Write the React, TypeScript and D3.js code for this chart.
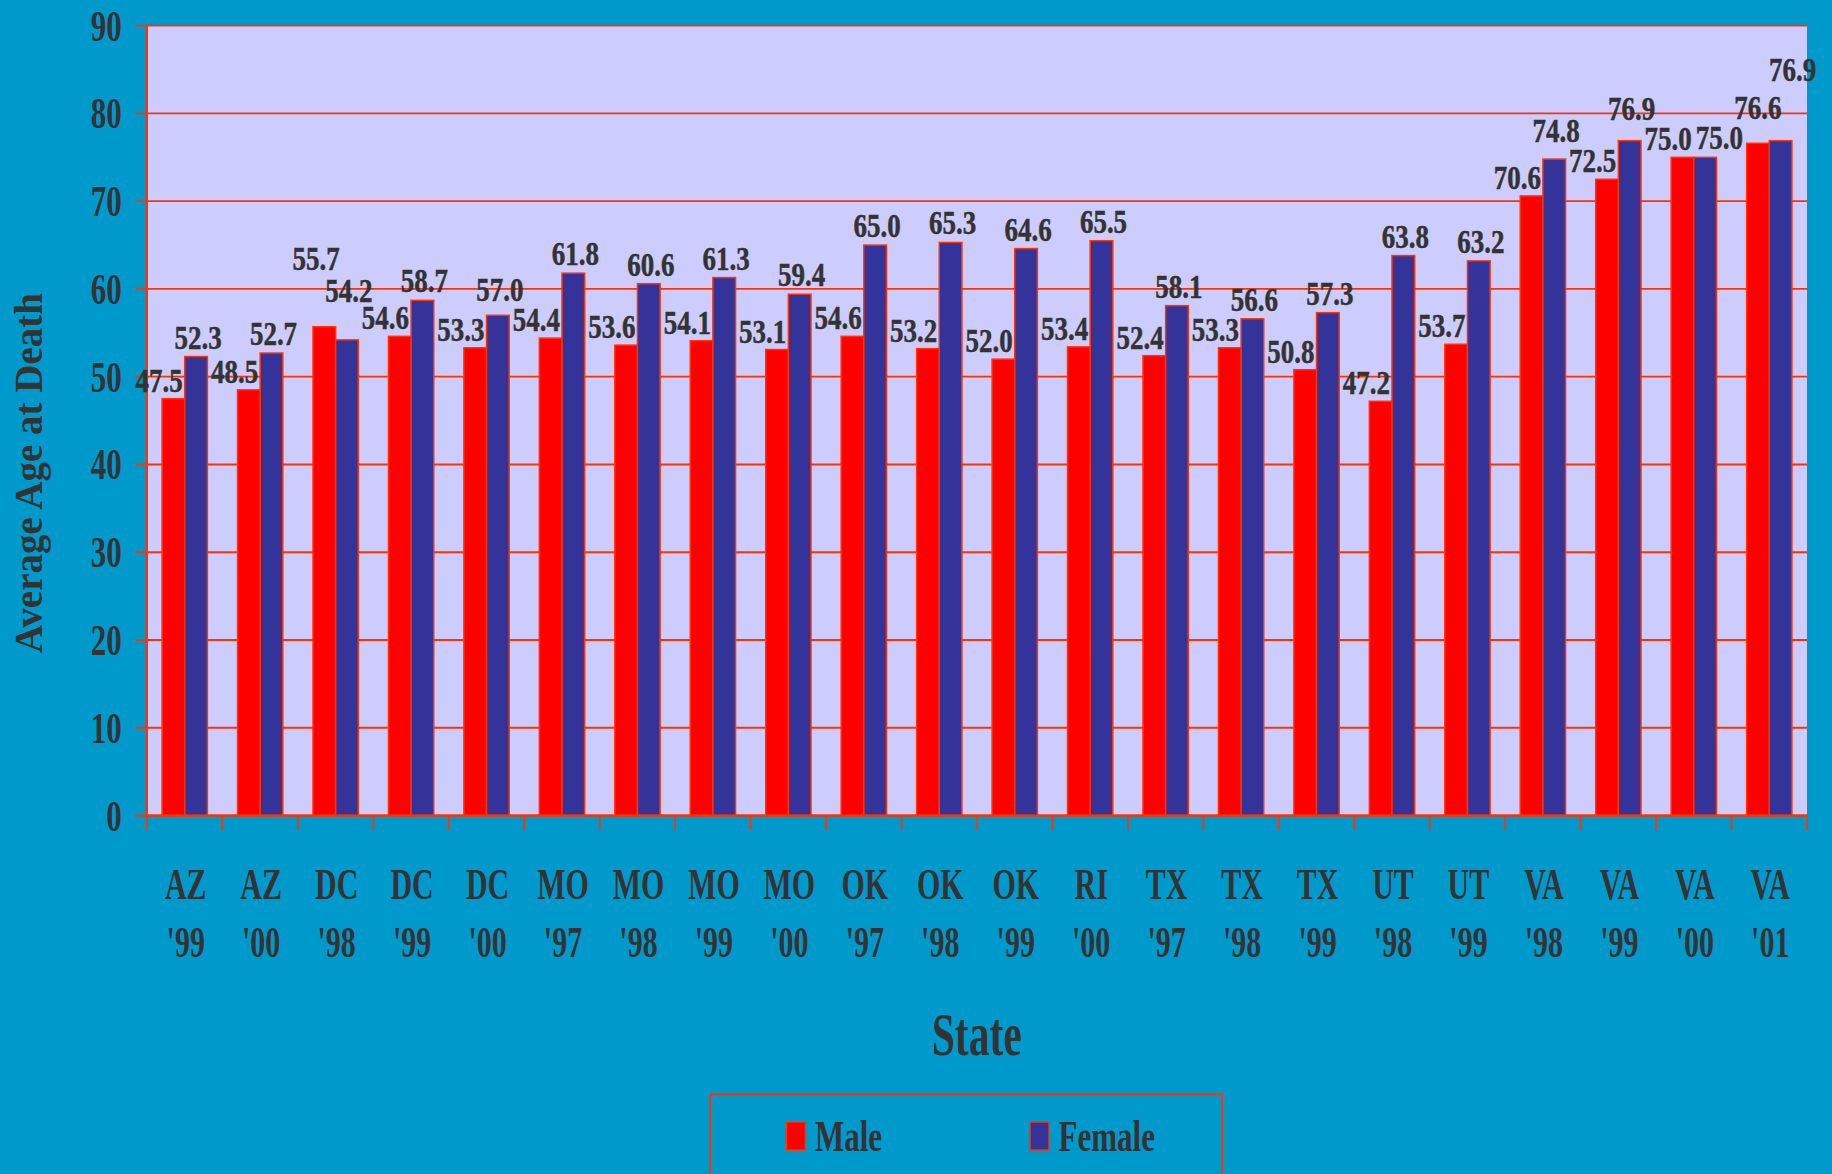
import React from "react";
import * as d3 from "d3";

const states = ["AZ", "AZ", "DC", "DC", "DC", "MO", "MO", "MO", "MO", "OK", "OK", "OK", "RI", "TX", "TX", "TX", "UT", "UT", "VA", "VA", "VA", "VA"];
const years = ["'99", "'00", "'98", "'99", "'00", "'97", "'98", "'99", "'00", "'97", "'98", "'99", "'00", "'97", "'98", "'99", "'98", "'99", "'98", "'99", "'00", "'01"];
const male = [47.5, 48.5, 55.7, 54.6, 53.3, 54.4, 53.6, 54.1, 53.1, 54.6, 53.2, 52.0, 53.4, 52.4, 53.3, 50.8, 47.2, 53.7, 70.6, 72.5, 75.0, 76.6];
const female = [52.3, 52.7, 54.2, 58.7, 57.0, 61.8, 60.6, 61.3, 59.4, 65.0, 65.3, 64.6, 65.5, 58.1, 56.6, 57.3, 63.8, 63.2, 74.8, 76.9, 75.0, 76.9];
const yTicks = [0, 10, 20, 30, 40, 50, 60, 70, 80, 90];
const seriesNames = ["Male", "Female"];

const W = 1832;
const H = 1174;
const BG = "#0099CC";
const PLOT_BG = "#CCCCFF";
const GRID = "#FF3300";
const RED = "#FF0000";
const BLUE = "#333399";
const TXT = "#333333";
const FONT = "'Liberation Serif', 'Times New Roman', serif";

const L = 147, R = 1807, T = 25.7, B = 815.5;

export default function App() {
  const idx = d3.range(states.length).map(String);
  const x = d3.scaleBand<string>().domain(idx).range([L, R]).paddingInner(0).paddingOuter(0);
  const y = d3.scaleLinear().domain([0, 90]).range([B, T]);
  const bandW = x.bandwidth();
  const bw = bandW * 0.3;
  const groupOff = (bandW - 2 * bw) / 2;

  const lfs = 27;
  const lsy = 1.22;
  const lh = 0.676 * lfs * lsy;
  const tw = (s: string) => {
    let w = 0;
    for (const c of s) w += c === "." ? 0.25 : 0.5;
    return w * lfs;
  };

  const labels = idx.map((k, i) => {
    const x0 = (x(k) as number) + groupOff;
    const mStr = male[i].toFixed(1);
    const fStr = female[i].toFixed(1);
    const wm = tw(mStr);
    const wf = tw(fStr);
    let mx = x0 + bw - 2;
    let mAnchor = "end";
    let mBase = y(male[i]) - 7;
    let fx = x0 + bw * 1.5 + 2;
    let fBase = y(female[i]) - 8;
    const overlapX = mx + 2 > fx - wf / 2;
    const overlapY = !(fBase < mBase - lh - 2 || mBase < fBase - lh - 2);
    if (overlapX && overlapY) {
      if (Math.abs(male[i] - female[i]) < 0.05) {
        fx += mx + 4 - (fx - wf / 2);
      } else if (female[i] > male[i]) {
        mx = x0 + bw / 2;
        mAnchor = "middle";
        mBase = y(male[i]) - 24;
        fBase = mBase - 38;
        fx = x0 + bw * 1.5 + 12;
      } else {
        fBase = y(female[i]) - 38;
        mBase = fBase - 32;
        mx = x0 + bw + 4;
      }
    }
    const mLeft = mAnchor === "end" ? mx - wm : mx - wm / 2;
    return { mStr, fStr, mx, mAnchor, mBase, fx, fBase, wf, mLeft };
  });

  // keep a female label clear of the next group's male label
  labels.forEach((lb, i) => {
    const nx = labels[i + 1];
    if (!nx) return;
    const hOverlap = lb.fx + lb.wf / 2 > nx.mLeft - 2;
    const vOverlap = lb.fBase > nx.mBase - lh - 2 && lb.fBase - lh < nx.mBase + 2;
    if (hOverlap && vOverlap) {
      lb.fBase = nx.mBase - lh - 8;
    }
  });

  const tickXs = [...idx.map((k) => x(k) as number), R];

  return (
    <svg width={W} height={H} style={{ position: "absolute", left: 0, top: 0 }} fontFamily={FONT} fontWeight="bold">
      <rect x={0} y={0} width={W} height={H} fill={BG} />
      <rect x={L} y={T} width={R - L} height={B - T} fill={PLOT_BG} />
      {yTicks.map((t) => (
        <g key={t}>
          <line x1={L - 11} x2={R} y1={y(t)} y2={y(t)} stroke={GRID} strokeWidth={1.8} />
          <text
            transform={`translate(${121.7},${y(t) + 15}) scale(1,1.45)`}
            textAnchor="end"
            fontSize={31}
            fill={TXT}
          >
            {t}
          </text>
        </g>
      ))}
      {idx.map((k, i) => {
        const x0 = (x(k) as number) + groupOff;
        return (
          <g key={k}>
            <rect x={x0} y={y(male[i])} width={bw} height={B - y(male[i])} fill={RED} stroke={GRID} strokeWidth={1.5} />
            <rect x={x0 + bw} y={y(female[i])} width={bw} height={B - y(female[i])} fill={BLUE} stroke={GRID} strokeWidth={1.5} />
          </g>
        );
      })}
      <line x1={L} x2={L} y1={T} y2={B} stroke={GRID} strokeWidth={2} />
      <line x1={L} x2={R} y1={B} y2={B} stroke={GRID} strokeWidth={2} />
      {tickXs.map((tx, i) => (
        <line key={i} x1={tx} x2={tx} y1={B} y2={B + 15} stroke={GRID} strokeWidth={1.8} />
      ))}
      {labels.map((lb, i) => (
        <g key={i} fontSize={lfs} fill={TXT} stroke={TXT} strokeWidth={0.4}>
          <text transform={`translate(${lb.mx},${lb.mBase}) scale(1,${lsy})`} textAnchor={lb.mAnchor}>{lb.mStr}</text>
          <text transform={`translate(${lb.fx},${lb.fBase}) scale(1,${lsy})`} textAnchor="middle">{lb.fStr}</text>
        </g>
      ))}
      {idx.map((k, i) => {
        const cx = (x(k) as number) + bandW / 2 + 1;
        return (
          <g key={k} fontSize={30} fill={TXT} textAnchor="middle">
            <text transform={`translate(${cx},${899}) scale(1,1.5)`}>{states[i]}</text>
            <text transform={`translate(${cx},${957}) scale(1,1.5)`}>{years[i]}</text>
          </g>
        );
      })}
      <text transform={`translate(${42},${473}) rotate(-90)`} textAnchor="middle" fontSize={39} fill={TXT}>
        Average Age at Death
      </text>
      <text transform={`translate(${976.7},${1055}) scale(1,1.5)`} textAnchor="middle" fontSize={41.5} fill={TXT}>
        State
      </text>
      <rect x={710} y={1094.5} width={512} height={120} fill="none" stroke={GRID} strokeWidth={2} />
      {seriesNames.map((name, i) => {
        const sx = i === 0 ? 786.4 : 1030;
        return (
          <g key={name}>
            <rect x={sx} y={1122} width={19} height={28} fill={i === 0 ? RED : BLUE} stroke={GRID} strokeWidth={1.5} />
            <text transform={`translate(${sx + 28.5},${1151}) scale(1,1.45)`} fontSize={31} fill={TXT}>
              {name}
            </text>
          </g>
        );
      })}
    </svg>
  );
}
